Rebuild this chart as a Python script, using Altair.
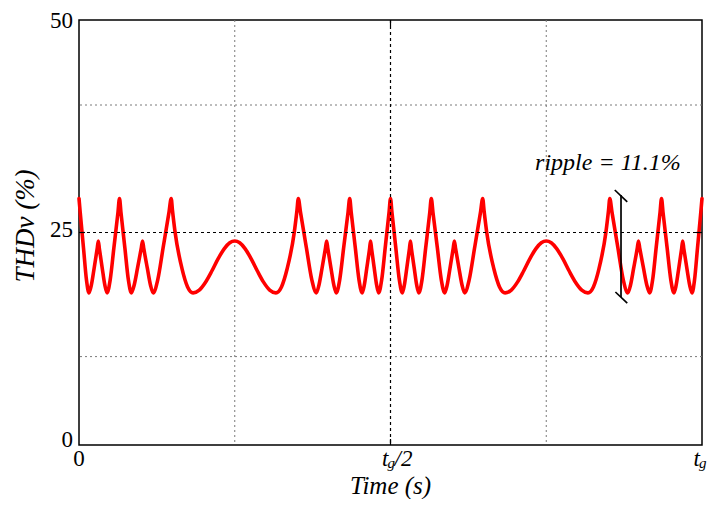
import altair as alt
import pandas as pd

# ---------------- data ----------------
# (time in % of t_g, THDv in %)
seg_start = [
    (0.0, 29.0), (0.19, 27.4), (0.72, 23.2), (1.2, 19.4), (1.6, 17.9),
    (1.98, 18.8), (2.43, 20.8), (2.92, 23.1), (3.1, 24.0), (3.27, 23.1),
    (3.73, 20.8), (4.15, 18.8), (4.5, 17.9), (5.0, 19.4), (5.6, 23.2),
    (6.26, 27.4), (6.5, 29.0), (6.73, 27.4), (7.36, 23.2), (7.93, 19.4),
    (8.4, 17.9), (8.85, 18.8), (9.39, 20.8), (9.98, 23.1), (10.2, 24.0),
    (10.4, 23.1), (10.97, 20.8), (11.48, 18.8), (11.9, 17.9), (12.63, 19.4),
    (13.5, 23.2), (14.45, 27.4), (14.8, 29.0), (15.01, 27.56), (15.43, 25.0),
    (16.55, 20.7), (17.43, 18.6), (18.3, 17.9),
]
hump_1 = [
    (19.3, 18.23), (20.31, 19.16), (21.32, 20.47), (22.32, 21.9), (23.33, 23.11),
    (24.2, 23.79), (25.0, 24.0), (25.79, 23.79), (26.65, 23.11), (27.64, 21.9),
    (28.63, 20.47), (29.62, 19.16), (30.61, 18.23),
]
seg_middle = [
    (31.6, 17.9), (32.5, 18.6), (33.4, 20.7), (34.55, 25.0), (34.98, 27.56),
    (35.2, 29.0), (35.55, 27.4), (36.5, 23.2), (37.38, 19.4), (38.1, 17.9),
    (38.51, 18.8), (39.01, 20.8), (39.55, 23.1), (39.75, 24.0), (39.94, 23.1),
    (40.45, 20.8), (40.91, 18.8), (41.3, 17.9), (41.84, 19.4), (42.48, 23.2),
    (43.19, 27.4), (43.45, 29.0), (43.69, 27.4), (44.35, 23.2), (44.95, 19.4),
    (45.45, 17.9), (45.79, 18.8), (46.19, 20.8), (46.64, 23.1), (46.8, 24.0),
    (46.96, 23.1), (47.39, 20.8), (47.78, 18.8), (48.1, 17.9), (48.58, 19.4),
    (49.15, 23.2), (49.77, 27.4), (50.0, 29.0), (50.23, 27.4), (50.85, 23.2),
    (51.42, 19.4), (51.9, 17.9), (52.22, 18.8), (52.61, 20.8), (53.04, 23.1),
    (53.2, 24.0), (53.36, 23.1), (53.81, 20.8), (54.21, 18.8), (54.55, 17.9),
    (55.05, 19.4), (55.65, 23.2), (56.31, 27.4), (56.55, 29.0), (56.81, 27.4),
    (57.52, 23.2), (58.16, 19.4), (58.7, 17.9), (59.09, 18.8), (59.55, 20.8),
    (60.06, 23.1), (60.25, 24.0), (60.45, 23.1), (60.99, 20.8), (61.49, 18.8),
    (61.9, 17.9), (62.62, 19.4), (63.5, 23.2), (64.45, 27.4), (64.8, 29.0),
    (65.02, 27.56), (65.45, 25.0), (66.6, 20.7), (67.5, 18.6), (68.4, 17.9),
]
hump_2 = [
    (69.39, 18.23), (70.38, 19.16), (71.37, 20.47), (72.36, 21.9), (73.35, 23.11),
    (74.21, 23.79), (75.0, 24.0), (75.8, 23.79), (76.67, 23.11), (77.68, 21.9),
    (78.68, 20.47), (79.69, 19.16), (80.7, 18.23),
]
seg_end = [
    (81.7, 17.9), (82.57, 18.6), (83.45, 20.7), (84.57, 25.0), (84.99, 27.56),
    (85.2, 29.0), (85.55, 27.4), (86.5, 23.2), (87.37, 19.4), (88.1, 17.9),
    (88.52, 18.8), (89.03, 20.8), (89.6, 23.1), (89.8, 24.0), (90.02, 23.1),
    (90.61, 20.8), (91.15, 18.8), (91.6, 17.9), (92.07, 19.4), (92.64, 23.2),
    (93.27, 27.4), (93.5, 29.0), (93.74, 27.4), (94.4, 23.2), (95.0, 19.4),
    (95.5, 17.9), (95.85, 18.8), (96.27, 20.8), (96.73, 23.1), (96.9, 24.0),
    (97.08, 23.1), (97.57, 20.8), (98.02, 18.8), (98.4, 17.9), (98.8, 19.4),
    (99.28, 23.2), (99.81, 27.4), (100.0, 29.0),
]

y_tick_values = [0, 25, 50]
y_tick_labels = ["0", "25", "50"]
x_zero_value = [0]
x_zero_label = ["0"]
x_tg_values = [50, 100]        # t_g/2 and t_g
x_half_value = [50]

gray_grid_y = [10.4, 40.0]
gray_grid_x = [25.0, 75.0]
black_grid_y = [25.0]
black_grid_x = [50.0]

ripple_label = ["ripple = 11.1%"]
ripple_label_t = [84.9]
ripple_label_v = [32.3]
ripple_bar_t = [87.0]
ripple_bar_lo = [17.4]
ripple_bar_hi = [29.4]
cap_t1 = [86.0, 86.1]
cap_t2 = [88.0, 88.0]
cap_v1 = [30.0, 18.0]
cap_v2 = [28.6, 16.7]

x_title = ["Time (s)"]
y_title = ["THDv (%)"]

# ---------------- chart ----------------
W, H = 623, 425
SERIF = "Liberation Serif"
xs = alt.Scale(domain=[0, 100], nice=False, zero=False)
ys = alt.Scale(domain=[0, 50], nice=False, zero=False)
X = lambda f: alt.X(f, scale=xs, axis=None)
Y = lambda f: alt.Y(f, scale=ys, axis=None)

pts = seg_start + hump_1 + seg_middle + hump_2 + seg_end
curve_df = pd.DataFrame(pts, columns=["t", "thd"])

gray_h = alt.Chart(pd.DataFrame({"v": gray_grid_y})).mark_rule(
    color="#7a7a7a", strokeDash=[2, 3], strokeWidth=1).encode(y=Y("v:Q"))
gray_v = alt.Chart(pd.DataFrame({"t": gray_grid_x})).mark_rule(
    color="#7a7a7a", strokeDash=[2, 3], strokeWidth=1).encode(x=X("t:Q"))

curve = alt.Chart(curve_df).mark_line(
    color="#ff0000", strokeWidth=3.6, strokeJoin="round", strokeCap="round",
    interpolate="monotone"
).encode(x=X("t:Q"), y=Y("thd:Q"))

black_h = alt.Chart(pd.DataFrame({"v": black_grid_y})).mark_rule(
    color="black", strokeDash=[3, 3], strokeWidth=1.2).encode(y=Y("v:Q"))
black_v = alt.Chart(pd.DataFrame({"t": black_grid_x})).mark_rule(
    color="black", strokeDash=[3, 3], strokeWidth=1.2).encode(x=X("t:Q"))

tick_df_y = pd.DataFrame({"v": black_grid_y})
tick_df_x = pd.DataFrame({"t": black_grid_x})
tick_l = alt.Chart(tick_df_y).mark_rule(color="black", strokeWidth=1.2).encode(
    y=Y("v:Q"), x=alt.value(0), x2=alt.value(6))
tick_r = alt.Chart(tick_df_y).mark_rule(color="black", strokeWidth=1.2).encode(
    y=Y("v:Q"), x=alt.value(W - 6), x2=alt.value(W))
tick_b = alt.Chart(tick_df_x).mark_rule(color="black", strokeWidth=1.2).encode(
    x=X("t:Q"), y=alt.value(H - 6), y2=alt.value(H))
tick_t = alt.Chart(tick_df_x).mark_rule(color="black", strokeWidth=1.2).encode(
    x=X("t:Q"), y=alt.value(0), y2=alt.value(6))

bar = alt.Chart(pd.DataFrame({"t": ripple_bar_t, "lo": ripple_bar_lo, "hi": ripple_bar_hi})
                ).mark_rule(color="black", strokeWidth=1.7).encode(
    x=X("t:Q"), y=Y("lo:Q"), y2="hi:Q")
caps = alt.Chart(pd.DataFrame({"t1": cap_t1, "t2": cap_t2, "v1": cap_v1, "v2": cap_v2})
                 ).mark_rule(color="black", strokeWidth=1.7).encode(
    x=X("t1:Q"), x2="t2:Q", y=Y("v1:Q"), y2="v2:Q")

ripple_txt = alt.Chart(pd.DataFrame({"t": ripple_label_t, "v": ripple_label_v, "s": ripple_label})
                       ).mark_text(font=SERIF, fontStyle="italic", fontSize=24, align="center",
                                   baseline="alphabetic", color="black").encode(
    x=X("t:Q"), y=Y("v:Q"), text="s:N")

# y tick labels (each nudged like the reference's labels)
label_nudge = {"0": -5, "25": -3, "50": 1}
ylabs = []
for v, s in zip(y_tick_values, y_tick_labels):
    ylabs.append(
        alt.Chart(pd.DataFrame({"v": [v], "s": [s]})).mark_text(
            font=SERIF, fontSize=23, align="right", baseline="middle",
            dy=label_nudge[s], color="black"
        ).encode(y=Y("v:Q"), x=alt.value(-6), text="s:N")
    )

LAB_Y = 446
xlab0 = alt.Chart(pd.DataFrame({"t": x_zero_value, "s": x_zero_label})).mark_text(
    font=SERIF, fontSize=23, align="center", baseline="alphabetic", color="black"
).encode(x=X("t:Q"), y=alt.value(LAB_Y), text="s:N")

tg_df = pd.DataFrame({"t": x_tg_values, "s": ["t", "t"], "g": ["g", "g"]})
xlab_t = alt.Chart(tg_df).mark_text(
    font=SERIF, fontSize=23, fontStyle="italic", align="right", baseline="alphabetic",
    dx=-2, color="black").encode(x=X("t:Q"), y=alt.value(LAB_Y), text="s:N")
xlab_g = alt.Chart(tg_df).mark_text(
    font=SERIF, fontSize=15, fontStyle="italic", align="left", baseline="alphabetic",
    dx=-3, color="black").encode(x=X("t:Q"), y=alt.value(LAB_Y + 1.5), text="g:N")
xlab_half = alt.Chart(pd.DataFrame({"t": x_half_value, "s": ["/2"]})).mark_text(
    font=SERIF, fontSize=23, fontStyle="italic", align="left", baseline="alphabetic",
    dx=4, color="black").encode(x=X("t:Q"), y=alt.value(LAB_Y), text="s:N")

xtitle = alt.Chart(pd.DataFrame({"t": [50], "s": x_title})).mark_text(
    font=SERIF, fontSize=25, fontStyle="italic", align="center", baseline="alphabetic",
    color="black").encode(x=X("t:Q"), y=alt.value(473.5), text="s:N")
ytitle = alt.Chart(pd.DataFrame({"s": y_title})).mark_text(
    font=SERIF, fontSize=27, fontStyle="italic", align="center", baseline="middle",
    angle=270, color="black").encode(x=alt.value(-53), y=alt.value(206), text="s:N")

chart = alt.layer(
    gray_h, gray_v, curve, black_h, black_v, tick_l, tick_r, tick_b, tick_t,
    bar, caps, ripple_txt, *ylabs, xlab0, xlab_t, xlab_g, xlab_half, xtitle, ytitle
).properties(
    width=W, height=H,
    autosize=alt.AutoSizeParams(type="none"),
    padding={"left": 71, "top": 12, "right": 5, "bottom": 54},
    background="white",
).configure_view(stroke="black", strokeWidth=1.5)

chart.save("out.html", embed_options={"renderer": "svg", "actions": False})
